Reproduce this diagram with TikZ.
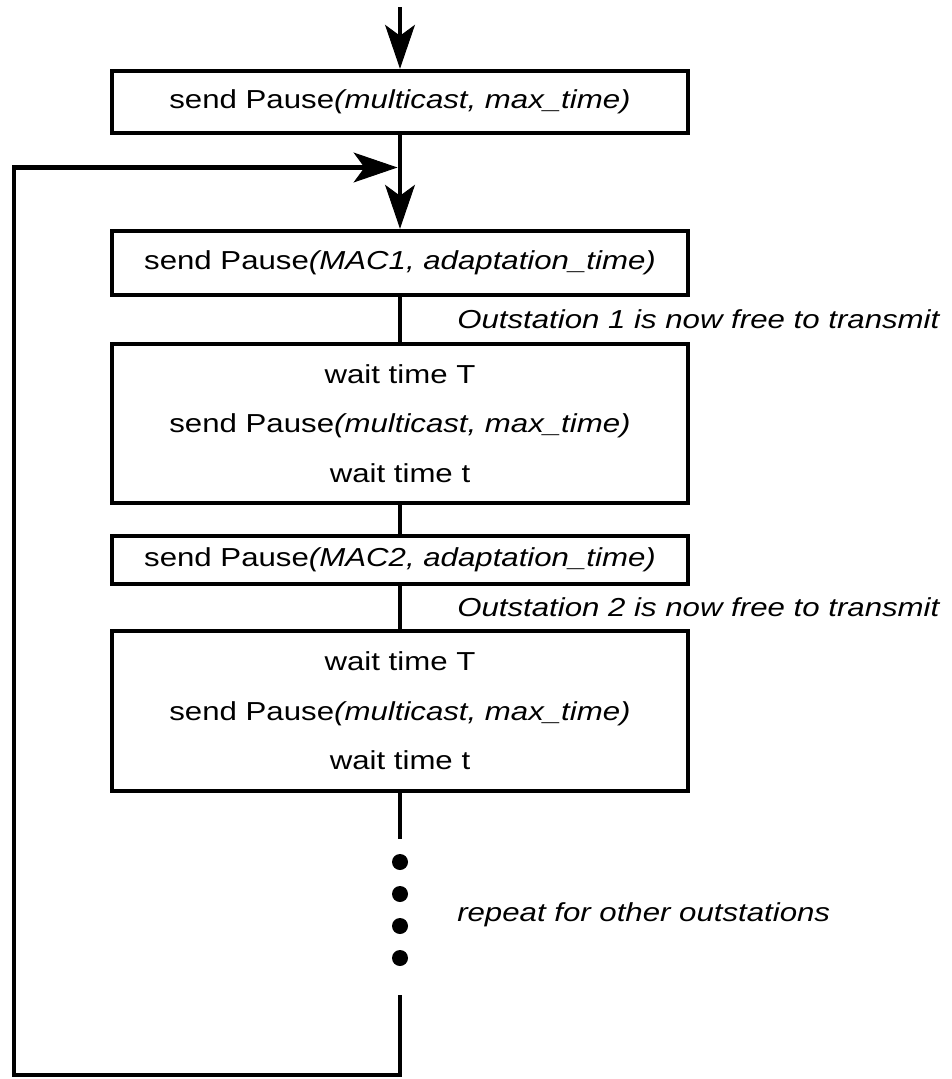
\documentclass[tikz,border=0pt]{standalone}
\usepackage{fontspec}
\setmainfont{Liberation Sans}[FakeStretch=1.2]
\usetikzlibrary{arrows.meta}
\begin{document}
\begin{tikzpicture}[x=1pt,y=-1pt,
  line width=4.5pt,
  arr/.style={-{Stealth[length=44pt,width=30pt,inset=11pt,line width=1pt]}},
  box/.style={draw,rectangle,minimum width=576pt,inner sep=0pt,align=center,
    font=\fontsize{26}{49.5}\selectfont},
  lab/.style={anchor=west,inner sep=0pt,font=\fontsize{26}{30}\selectfont\itshape},
  dot/.style={circle,fill,inner sep=0pt,minimum size=16pt}]
\useasboundingbox (0,0) rectangle (951,1079);
\node[box,minimum height=62pt] (b1) at (400,102) {send Pause\textit{(multicast, max\_time)}};
\node[box,minimum height=64pt] (b2) at (400,263) {send Pause\textit{(MAC1, adaptation\_time)}};
\node[box,minimum height=159pt] (b3) at (400,423.5) {wait time T\\send Pause\textit{(multicast, max\_time)}\\wait time t};
\node[box,minimum height=48pt] (b4) at (400,560) {send Pause\textit{(MAC2, adaptation\_time)}};
\node[box,minimum height=160pt] (b5) at (400,711) {wait time T\\send Pause\textit{(multicast, max\_time)}\\wait time t};
\node[lab] (l1) at (455,319) {Outstation 1 is now free to transmit};
\node[lab] (l2) at (455,607) {Outstation 2 is now free to transmit};
\node[lab] (l3) at (455,915) {repeat for other outstations};
\node[dot] (d1) at (400,862) {};
\node[dot] (d2) at (400,894) {};
\node[dot] (d3) at (400,926) {};
\node[dot] (d4) at (400,958) {};
\coordinate (start) at (400,7);
\coordinate (join) at (397.5,167.5);
\coordinate (gap) at (400,839);
\coordinate (resume) at (400,995);
\coordinate (br) at (400,1075);
\coordinate (bl) at (14,1075);
\coordinate (tl) at (14,167.5);
\draw[arr] (start) -- (b1.north);
\draw[arr] (b1.south) -- (b2.north);
\draw (b2.south) -- (b3.north);
\draw (b3.south) -- (b4.north);
\draw (b4.south) -- (b5.north);
\draw (b5.south) -- (gap);
\draw[arr] (resume) -- (br) -- (bl) -- (tl) -- (join);
\end{tikzpicture}
\end{document}
